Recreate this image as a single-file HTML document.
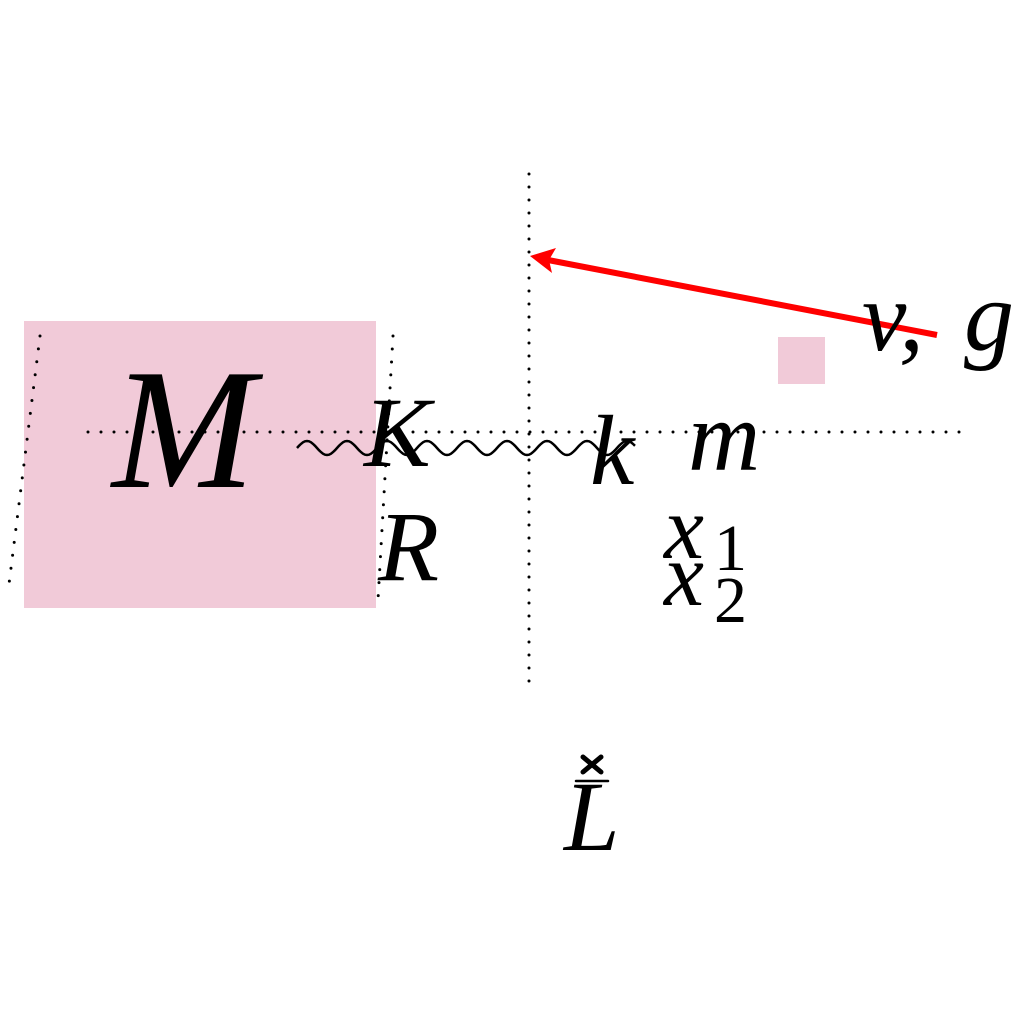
<!DOCTYPE html>
<html><head><meta charset="utf-8"><style>
html,body{margin:0;padding:0;background:#fff;}
svg{display:block;}
text{font-family:"Liberation Serif",serif;font-style:italic;fill:#000;}
text.up{font-style:normal;}
</style></head><body>
<svg width="1024" height="1024" viewBox="0 0 1024 1024">
<rect x="0" y="0" width="1024" height="1024" fill="#fff"/>
<rect x="24" y="321" width="352" height="287" fill="#f1cad8"/>
<rect x="778" y="337" width="47" height="47" fill="#f1cad8"/>
<g stroke="#000" stroke-width="3" stroke-dasharray="0 13" stroke-linecap="round" fill="none">
<line x1="88" y1="432" x2="965" y2="432"/>
<line x1="529" y1="174" x2="529" y2="685"/>
<line x1="40" y1="336" x2="8" y2="592"/>
<line x1="393" y1="336" x2="378" y2="600"/>
</g>
<path id="wave" fill="none" stroke="#000" stroke-width="2.5"/>
<line x1="937" y1="335" x2="548" y2="260" stroke="#f00" stroke-width="6"/>
<path d="M530,256 L556,248 L549,260 L552,273 Z" fill="#f00"/>
<text x="112" y="487" font-size="172" textLength="172">M</text>
<text x="364" y="466" font-size="100" textLength="72">K</text>
<text x="590" y="484" font-size="100">k</text>
<text x="688" y="470" font-size="100" textLength="82">m</text>
<text x="378" y="580" font-size="100" textLength="68">R</text>
<text x="664" y="558" font-size="90">x</text>
<text class="up" x="714" y="570" font-size="66">1</text>
<text x="664" y="605" font-size="90">x</text>
<text class="up" x="714" y="622" font-size="66">2</text>
<text x="862" y="350" font-size="100">v,</text>
<text x="964" y="350" font-size="100">g</text>
<text x="564" y="850" font-size="100" textLength="62">L</text>
<g stroke="#000" stroke-width="5" stroke-linecap="round">
<line x1="583" y1="757" x2="601" y2="772"/><line x1="601" y1="757" x2="583" y2="772"/>
<line x1="576" y1="781" x2="608" y2="781" stroke-width="2.5"/>
</g>
</svg>
<script>
var p='M297,448';
for(var x=297;x<635;x+=2){p+=' L'+(x+2)+','+(448-7*Math.sin((x+2-297)/40*2*Math.PI)).toFixed(1);}
document.getElementById('wave').setAttribute('d',p);
</script>
</body></html>
